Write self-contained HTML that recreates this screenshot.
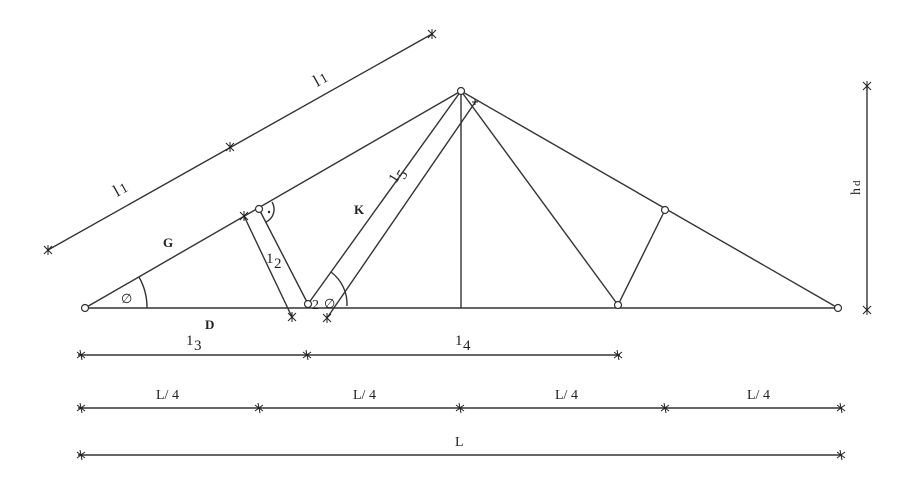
<!DOCTYPE html>
<html><head><style>html,body{margin:0;padding:0;background:#fff}svg{display:block}
text{font-family:"Liberation Serif",serif;fill:#222}</style></head><body>
<svg width="900" height="488" viewBox="0 0 900 488" xmlns="http://www.w3.org/2000/svg">
<defs><g id="t"><path d="M-4,-4L4,4M-4,4L4,-4M0,-5L0,5" stroke="#222" stroke-width="1"/></g>
<g id="ts"><path d="M-4,-3L4,3M-4,3L4,-3M-1,-5L1,5" stroke="#222" stroke-width="1"/></g></defs>
<g stroke="#333" stroke-width="1.4" fill="none">
<line x1="85" y1="308" x2="838" y2="308"/>
<line x1="85" y1="308" x2="461" y2="91"/>
<line x1="461" y1="91" x2="838" y2="308"/>
<line x1="461" y1="91" x2="461" y2="308"/>
<line x1="308" y1="304" x2="461" y2="91"/>
<line x1="327" y1="318" x2="476" y2="101"/>
<line x1="244" y1="216" x2="292" y2="317"/>
<line x1="259" y1="209" x2="308" y2="304"/>
<line x1="461" y1="91" x2="618" y2="305"/>
<line x1="618" y1="305" x2="665" y2="210"/>
<path d="M139,277 A62,62 0 0 1 147,308"/>
<path d="M331,272 A40,40 0 0 1 347,306"/>
<path d="M272,202 A14,14 0 0 1 266,222"/>
<line x1="48" y1="250" x2="432" y2="34"/>
<line x1="867" y1="86" x2="867" y2="310"/>
<line x1="78" y1="355" x2="620" y2="355"/>
<line x1="78" y1="408" x2="842" y2="408"/>
<line x1="78" y1="455" x2="842" y2="455"/>
</g>
<g fill="#fff" stroke="#333" stroke-width="1.2">
<circle cx="85" cy="308" r="3.5"/><circle cx="838" cy="308" r="3.5"/>
<circle cx="461" cy="91" r="3.5"/><circle cx="308" cy="304" r="3.5"/>
<circle cx="259" cy="209" r="3.5"/><circle cx="618" cy="305" r="3.5"/>
<circle cx="665" cy="210" r="3.5"/>
</g>
<circle cx="269" cy="212" r="1.2" fill="#222"/>
<use href="#t" x="48" y="250"/><use href="#t" x="230" y="147"/><use href="#t" x="432" y="34"/>
<use href="#t" x="244" y="216"/><use href="#t" x="292" y="317"/><use href="#t" x="327" y="318"/>
<path d="M472,102l6,0M475,99l0,6" stroke="#222"/>
<use href="#t" x="867" y="86"/><use href="#t" x="867" y="310"/>
<use href="#ts" x="81" y="355"/><use href="#ts" x="307" y="355"/><use href="#ts" x="618" y="355"/>
<use href="#ts" x="81" y="408"/><use href="#ts" x="259" y="408"/><use href="#ts" x="460" y="408"/><use href="#ts" x="665" y="408"/><use href="#ts" x="841" y="408"/>
<use href="#ts" x="81" y="455"/><use href="#ts" x="841" y="455"/>
<g font-size="15">
<text transform="translate(117,197) rotate(-29)" font-family="Liberation Sans, sans-serif" font-size="17">l<tspan font-size="14" dx="2">1</tspan></text>
<text transform="translate(317,87) rotate(-29)" font-family="Liberation Sans, sans-serif" font-size="17">l<tspan font-size="14" dx="2">1</tspan></text>
<text x="163" y="247" font-weight="bold" font-size="13">G</text>
<text x="205" y="329" font-weight="bold" font-size="13">D</text>
<text x="354" y="214" font-weight="bold" font-size="13">K</text>
<text x="266" y="263">1</text><text x="274" y="268">2</text>
<text transform="translate(396,184) rotate(-58)">1<tspan dy="5">5</tspan></text>
<text x="312" y="309" font-size="14">2</text>
<text x="324" y="308" font-size="13">∅</text>
<text x="121" y="303" font-size="13">∅</text>
<text x="186" y="345">1</text><text x="194" y="350">3</text>
<text x="455" y="345">1</text><text x="463" y="350">4</text>
<text x="156" y="399" font-size="14">L/ 4</text>
<text x="353" y="399" font-size="14">L/ 4</text>
<text x="555" y="399" font-size="14">L/ 4</text>
<text x="747" y="399" font-size="14">L/ 4</text>
<text x="455" y="446" font-size="14">L</text>
<text x="858" y="207" font-size="14" transform="rotate(-90 853 200)">h</text>
<text x="867" y="207" font-size="11" transform="rotate(-90 853 200)">d</text>
</g>
</svg>
</body></html>
